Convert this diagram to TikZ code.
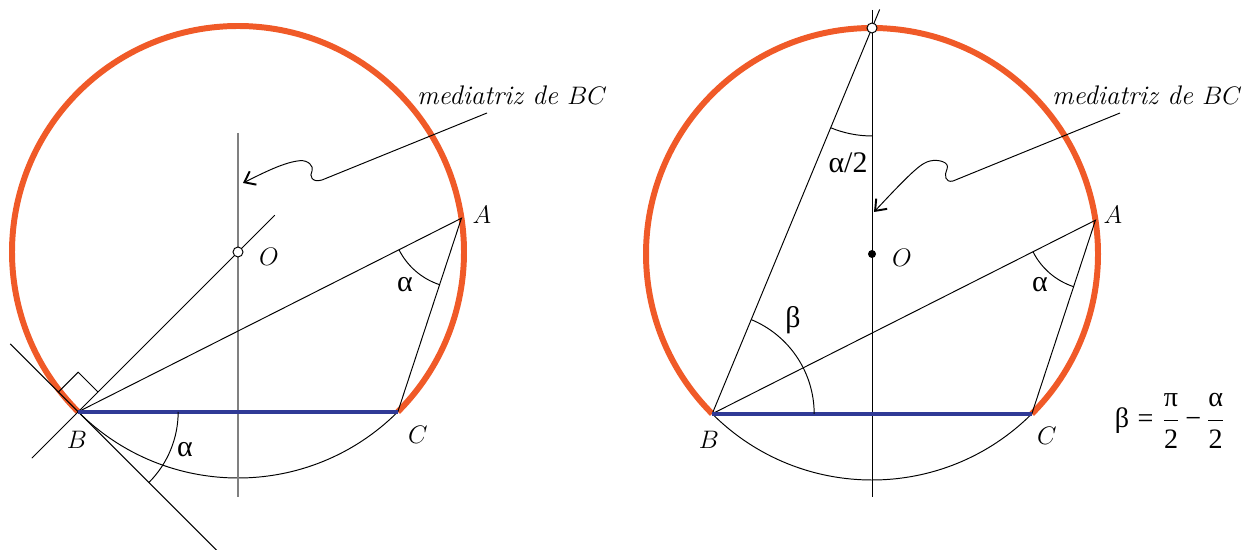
\documentclass[tikz,border=0pt]{standalone}
\usepackage{fontspec}
\newfontfamily\grk{Liberation Serif}
\usetikzlibrary{calc,angles,arrows.meta}
\definecolor{orng}{RGB}{240,90,40}
\definecolor{blu}{RGB}{48,58,150}
\tikzset{
  thinline/.style={line width=0.55pt},
  orangearc/.style={orng,line width=3.4pt},
  chord/.style={blu,line width=2.4pt},
  lbl/.style={font=\fontsize{15}{18}\selectfont,inner sep=0pt},
  grklbl/.style={font=\grk\fontsize{17}{20}\selectfont,inner sep=0pt},
  medlbl/.style={font=\fontsize{15.3}{18}\selectfont\itshape,inner sep=0pt},
  pointer/.style={line width=0.55pt,-{Straight Barb[length=5.5pt,width=8.5pt,line width=1.1pt]}},
  opendot/.style={circle,draw,fill=white,inner sep=0pt,minimum size=0.2cm,line width=0.55pt},
  fulldot/.style={circle,fill=black,inner sep=0pt,minimum size=0.16cm},
  anglearc/.style={draw,line width=0.55pt}
}
\begin{document}
\begin{tikzpicture}[x=0.02cm,y=0.02cm]
\useasboundingbox (0,0) rectangle (1246,550);
% ---------------- left figure ----------------
\coordinate (O1) at (238,298);
\coordinate (B1) at ($(O1)+(225:226)$);
\coordinate (C1) at ($(O1)+(-45:226)$);
\coordinate (A1) at ($(O1)+(8.6:226)$);
\coordinate (M1t) at (238,417);
\coordinate (M1b) at (238,53);
\coordinate (L1a) at ($(B1)!-0.29!(O1)$);
\coordinate (L1b) at ($(B1)!1.23!(O1)$);
\coordinate (T1a) at ($(B1)+(135:96)$);
\coordinate (T1b) at ($(B1)+(-45:198)$);

\draw[orangearc] (C1) arc[start angle=-45,end angle=225,radius=226];
\draw[thinline] (B1) arc[start angle=225,end angle=315,radius=226];
\draw[gray,line width=0.9pt] (M1t) -- (M1b);
\draw[thinline] (L1a) -- (L1b);
\draw[thinline] (T1a) -- (T1b);
\draw[thinline] ($(B1)+(135:28)$) -- ++(45:28) -- ++(-45:28);
\draw[thinline] (B1) -- (A1) -- (C1);
\draw[chord] (B1) -- (C1);
\pic[anglearc,angle radius=2cm] {angle=T1b--B1--C1};
\pic[anglearc,angle radius=1.4cm] {angle=B1--A1--C1};
\node[opendot] (O1dot) at (O1) {};

\coordinate (P1s) at (487,437);
\coordinate (P1e) at (243,367);
\draw[pointer] (P1s) -- (322,370) .. controls (312,367) and (309,374) .. (312,379)
  .. controls (314,384) and (308,390) .. (300,389.3)
  .. controls (285,388) and (265,378) .. (P1e);

\node[medlbl] (med1) at (512,455) {mediatriz de $BC$};
\node[lbl] (lA1) at (482,335) {$A$};
\node[lbl] (lO1) at (269,293) {$O$};
\node[lbl] (lB1) at (77,110) {$B$};
\node[lbl] (lC1) at (418,115) {$C$};
\node[grklbl] (al1) at (185,100) {α};
\node[grklbl] (al2) at (405,265) {α};

% ---------------- right figure ----------------
\coordinate (O2) at (872,296);
\coordinate (B2) at ($(O2)+(225:226)$);
\coordinate (C2) at ($(O2)+(-45:226)$);
\coordinate (A2) at ($(O2)+(8.6:226)$);
\coordinate (T2) at ($(O2)+(90:226)$);
\coordinate (M2t) at (872,540);
\coordinate (M2b) at (872,53);
\coordinate (T2x) at ($(B2)!1.048!(T2)$);

\draw[orangearc] (C2) arc[start angle=-45,end angle=225,radius=226];
\draw[thinline] (B2) arc[start angle=225,end angle=315,radius=226];
\draw[thinline] (M2t) -- (M2b);
\draw[thinline] (B2) -- (T2x);
\draw[thinline] (B2) -- (A2) -- (C2);
\draw[chord] (B2) -- (C2);
\pic[anglearc,angle radius=2.16cm] {angle=B2--T2--O2};
\pic[anglearc,angle radius=2.04cm] {angle=C2--B2--T2};
\pic[anglearc,angle radius=1.4cm] {angle=B2--A2--C2};
\node[opendot] (T2dot) at (T2) {};
\node[fulldot] (O2dot) at (O2) {};

\coordinate (P2s) at (1120,437);
\coordinate (P2e) at (874,338);
\draw[pointer] (P2s) -- (953,369) .. controls (945,367) and (944,375) .. (947,381)
  .. controls (950,388) and (938,391) .. (930,389)
  .. controls (922,387) and (915,382) .. (P2e);

\node[medlbl] (med2) at (1147,455) {mediatriz de $BC$};
\node[lbl] (lA2) at (1113,335) {$A$};
\node[lbl] (lO2) at (902,292) {$O$};
\node[lbl] (lB2) at (709,110) {$B$};
\node[lbl] (lC2) at (1047,114) {$C$};
\node[grklbl] (ah) at (848,387) {α/2};
\node[grklbl] (be) at (793,230) {β};
\node[grklbl] (al3) at (1040,265) {α};
\node[font=\grk\fontsize{16}{19}\selectfont,inner sep=0pt] (form) at (1170,129)
  {$\displaystyle\mbox{β}\;\mbox{=}\;\frac{\mbox{π}}{\mbox{2}}\,\mbox{−}\,\frac{\mbox{α}}{\mbox{2}}$};
\end{tikzpicture}
\end{document}
